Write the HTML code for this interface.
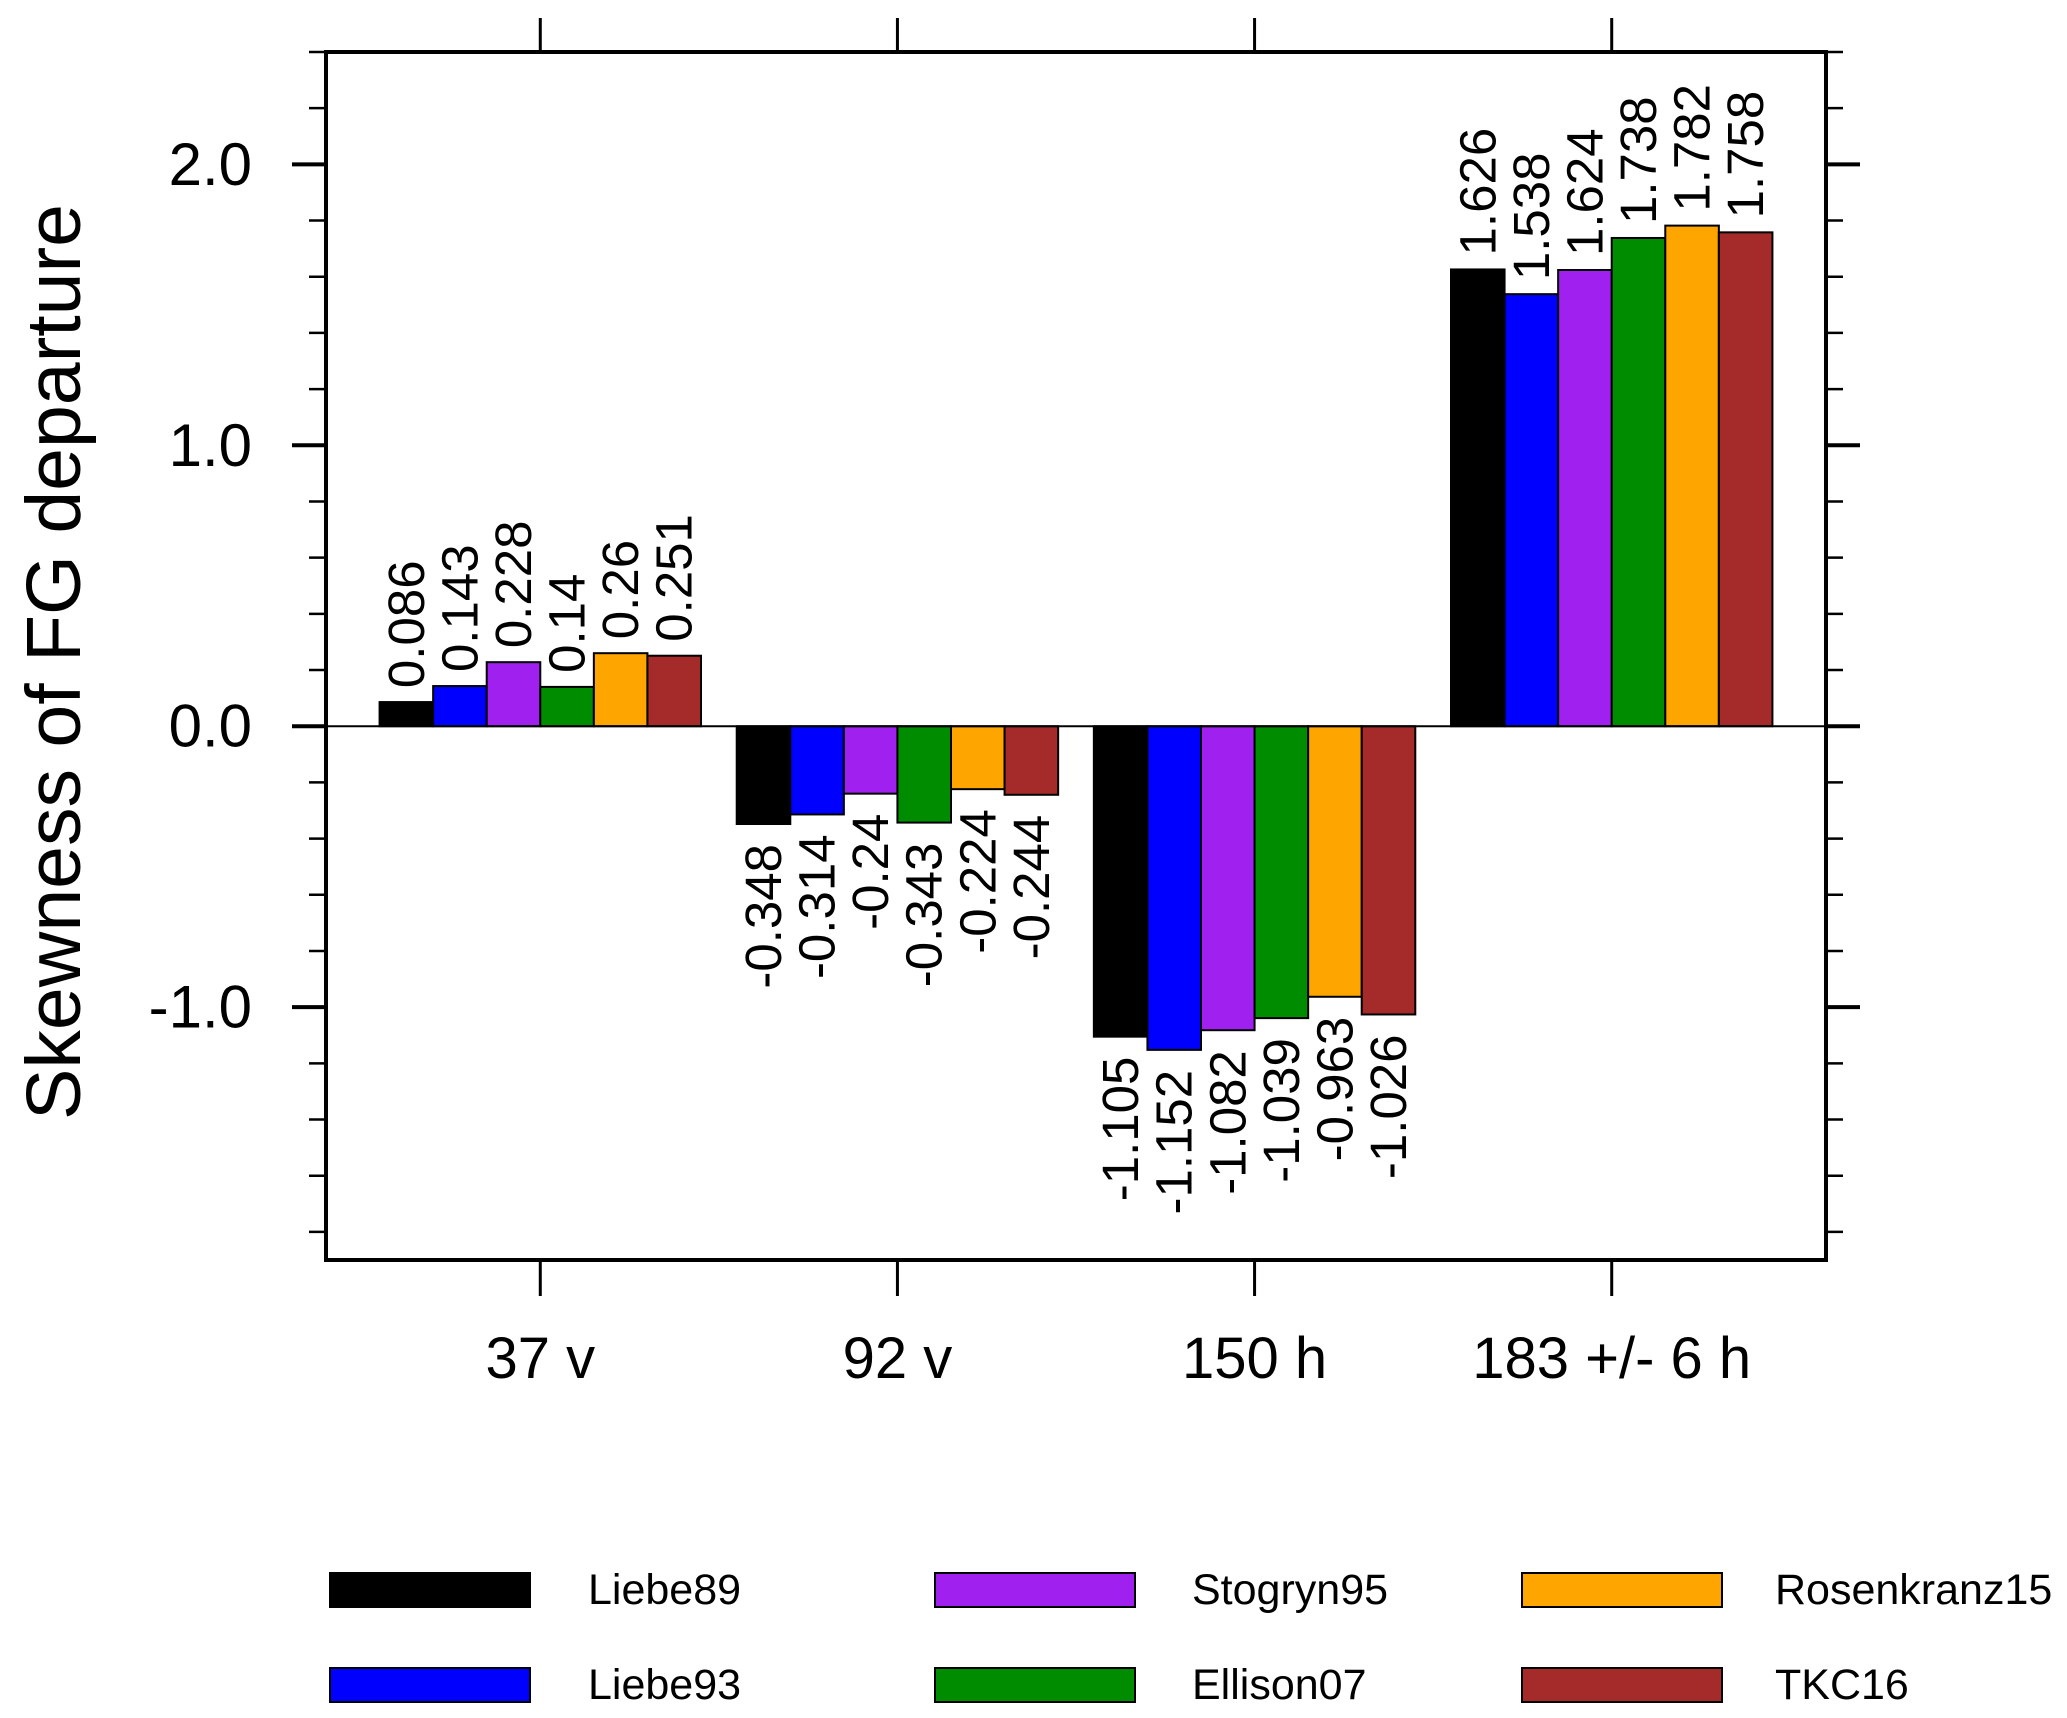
<!DOCTYPE html>
<html><head><meta charset="utf-8"><style>
html,body{margin:0;padding:0;background:#fff;}
svg{display:block;font-family:"Liberation Sans",Arial,sans-serif;}
</style></head><body>
<svg id="chart" width="2067" height="1718" viewBox="0 0 2067 1718">
<rect width="2067" height="1718" fill="#fff"/>
<g id="plot"></g>
<text transform="translate(54,662) rotate(-90)" text-anchor="middle" dominant-baseline="central" font-size="77">Skewness of FG departure</text>
</svg>
<script>
const categories = ["37 v", "92 v", "150 h", "183 +/- 6 h"];
const seriesNames = ["Liebe89", "Liebe93", "Stogryn95", "Ellison07", "Rosenkranz15", "TKC16"];
const seriesColors = ["#000000", "#0000ff", "#a020f0", "#008c00", "#ffa500", "#a52a2a"];
const liebe89 = [0.086, -0.348, -1.105, 1.626];
const liebe93 = [0.143, -0.314, -1.152, 1.538];
const stogryn95 = [0.228, -0.24, -1.082, 1.624];
const ellison07 = [0.14, -0.343, -1.039, 1.738];
const rosenkranz15 = [0.26, -0.224, -0.963, 1.782];
const tkc16 = [0.251, -0.244, -1.026, 1.758];
const valueLabels = [
  ["0.086", "-0.348", "-1.105", "1.626"],
  ["0.143", "-0.314", "-1.152", "1.538"],
  ["0.228", "-0.24", "-1.082", "1.624"],
  ["0.14", "-0.343", "-1.039", "1.738"],
  ["0.26", "-0.224", "-0.963", "1.782"],
  ["0.251", "-0.244", "-1.026", "1.758"]
];
const yTicks = [-1.0, 0.0, 1.0, 2.0];
const yTickLabels = ["-1.0", "0.0", "1.0", "2.0"];

const series = [liebe89, liebe93, stogryn95, ellison07, rosenkranz15, tkc16];
const L = 326, R = 1826, T = 52, B = 1260;
const X0 = 0.4, X1 = 4.6, Y0 = -1.9, Y1 = 2.4;
const xs = v => L + (v - X0) / (X1 - X0) * (R - L);
const ys = v => B - (v - Y0) / (Y1 - Y0) * (B - T);
const NS = "http://www.w3.org/2000/svg";
const plot = document.getElementById('plot');
function mk(tag, attrs, parent) {
  const e = document.createElementNS(NS, tag);
  for (const k in attrs) e.setAttribute(k, attrs[k]);
  (parent || plot).appendChild(e);
  return e;
}
const barW = (xs(1.15) - xs(1));
series.forEach((vals, s) => {
  vals.forEach((v, c) => {
    const cx = xs(c + 1) + (s - 2.5) * barW;
    const y0 = ys(0), y1 = ys(v);
    const r = mk('rect', {x: cx - barW / 2, y: Math.min(y0, y1), width: barW, height: Math.abs(y1 - y0), fill: seriesColors[s], stroke: '#000', 'stroke-width': 2});
    
    
    let t;
    if (v >= 0) {
      t = mk('text', {transform: `translate(${cx},${y1 - 14}) rotate(-90)`, 'text-anchor': 'start', 'dominant-baseline': 'central', 'font-size': 51});
    } else {
      t = mk('text', {transform: `translate(${cx},${y1 + 20}) rotate(-90)`, 'text-anchor': 'end', 'dominant-baseline': 'central', 'font-size': 51});
    }
    t.textContent = valueLabels[s][c];
    
    
  });
});
const zl = mk('line', {x1: L, x2: R, y1: ys(0), y2: ys(0), stroke: '#000', 'stroke-width': 2});


for (let k = -9; k <= 12; k++) {
  const v = k * 0.2;
  const y = ys(v);
  const major = Math.abs(v - Math.round(v)) < 1e-6;
  const len = major ? 34 : 17;
  mk('line', {x1: L - len, x2: L, y1: y, y2: y, stroke: '#000', 'stroke-width': major ? 4 : 2.5});
  mk('line', {x1: R, x2: R + len, y1: y, y2: y, stroke: '#000', 'stroke-width': major ? 4 : 2.5});
}
yTicks.forEach((v, i) => {
  const t = mk('text', {x: 252, y: ys(v), 'text-anchor': 'end', 'dominant-baseline': 'central', 'font-size': 60});
  t.textContent = yTickLabels[i];
  
  
});
categories.forEach((c, i) => {
  const x = xs(i + 1);
  mk('line', {x1: x, x2: x, y1: T - 34, y2: T, stroke: '#000', 'stroke-width': 3});
  mk('line', {x1: x, x2: x, y1: B, y2: B + 36, stroke: '#000', 'stroke-width': 3});
  const t = mk('text', {x: x, y: 1378, 'text-anchor': 'middle', 'font-size': 58});
  t.textContent = c;
  
  
});
const frame = mk('rect', {x: L, y: T, width: R - L, height: B - T, fill: 'none', stroke: '#000', 'stroke-width': 4});


const legOrder = [0, 2, 4, 1, 3, 5];
const colX = [330, 935, 1522];
const textX = [588, 1192, 1775];
const rowY = [1573, 1668];
legOrder.forEach((s, idx) => {
  const col = idx % 3, row = Math.floor(idx / 3);
  const g = mk('g', {});
  
  
  mk('rect', {x: colX[col], y: rowY[row], width: 200, height: 34, fill: seriesColors[s], stroke: '#000', 'stroke-width': 2}, g);
  const t = mk('text', {x: textX[col], y: rowY[row] + 17, 'dominant-baseline': 'central', 'font-size': 43}, g);
  t.textContent = seriesNames[s];
});
</script>
</body></html>
